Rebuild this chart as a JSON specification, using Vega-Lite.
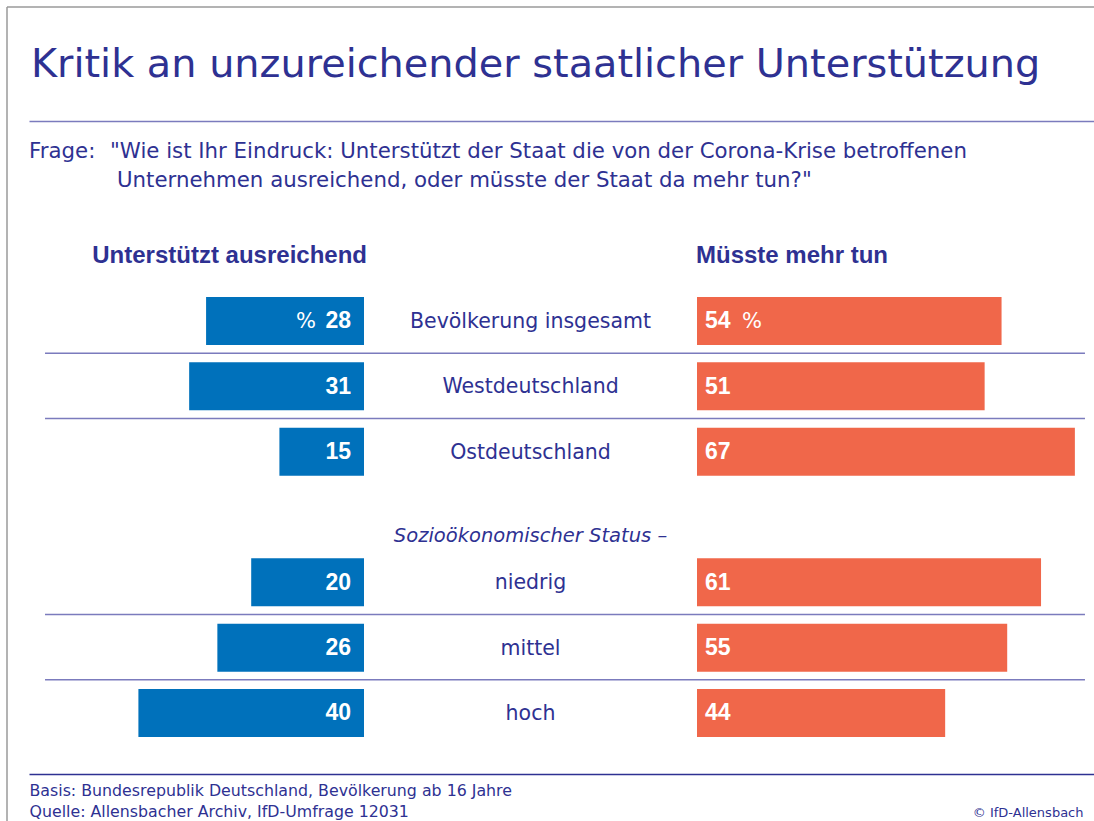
{
  "$schema": "https://vega.github.io/schema/vega-lite/v6.json",
  "width": 1087,
  "height": 814,
  "autosize": {"type": "none"},
  "padding": {"left": 7, "top": 7, "right": 0, "bottom": 0},
  "background": "white",
  "config": {"view": {"stroke": "#9a9a9a", "strokeWidth": 1.5, "strokeDash": [1087, 1901, 814, 0]}, "text": {"font": "DejaVu Sans"}},
  "title": {
    "text": "Kritik an unzureichender staatlicher Unterstützung",
    "orient": "top", "anchor": "start", "frame": "group",
    "offset": -109.5, "dx": 24, "baseline": "alphabetic",
    "font": "DejaVu Sans", "fontSize": 39.8, "fontWeight": "normal", "color": "#2e3192"
  },
  "datasets": {
    "umfrage": [
      {"row": "Bevölkerung insgesamt", "ausreichend": 28, "mehr": 54},
      {"row": "Westdeutschland", "ausreichend": 31, "mehr": 51},
      {"row": "Ostdeutschland", "ausreichend": 15, "mehr": 67},
      {"row": "niedrig", "ausreichend": 20, "mehr": 61},
      {"row": "mittel", "ausreichend": 26, "mehr": 55},
      {"row": "hoch", "ausreichend": 40, "mehr": 44}
    ]
  },
  "data": {"name": "umfrage"},
  "resolve": {"scale": {"x": "independent"}, "axis": {"x": "independent"}},
  "layer": [
    {
      "mark": {"type": "bar", "color": "#0071bb"},
      "encoding": {
        "y": {"field": "row", "type": "nominal", "axis": null, "scale": {"type": "band", "domain": ["header", "Bevölkerung insgesamt", "Westdeutschland", "Ostdeutschland", "section", "niedrig", "mittel", "hoch"], "range": [216, 738.67], "paddingInner": 0.2653, "paddingOuter": 0.13265}},
        "x": {"field": "ausreichend", "type": "quantitative", "axis": null, "scale": {"domain": [0, 60], "range": [357, 18.6]}},
        "x2": {"datum": 0}
      }
    },
    {
      "mark": {"type": "text", "align": "right", "baseline": "alphabetic", "dx": -13, "dy": 7.3, "font": "Liberation Sans", "fontWeight": "bold", "fontSize": 23, "color": "white"},
      "encoding": {
        "y": {"field": "row", "type": "nominal", "axis": null},
        "x": {"datum": 0, "type": "quantitative", "axis": null, "scale": {"domain": [0, 60], "range": [357, 18.6]}},
        "text": {"field": "ausreichend", "type": "quantitative"}
      }
    },
    {
      "transform": [{"filter": {"field": "row", "equal": "Bevölkerung insgesamt"}}],
      "mark": {"type": "text", "align": "right", "baseline": "alphabetic", "dx": -48, "dy": 7.3, "font": "DejaVu Sans", "fontSize": 21, "color": "white"},
      "encoding": {
        "y": {"field": "row", "type": "nominal", "axis": null},
        "x": {"datum": 0, "type": "quantitative", "axis": null, "scale": {"domain": [0, 60], "range": [357, 18.6]}},
        "text": {"value": "%"}
      }
    },
    {
      "mark": {"type": "bar", "color": "#f0674a"},
      "encoding": {
        "y": {"field": "row", "type": "nominal", "axis": null},
        "x": {"field": "mehr", "type": "quantitative", "scale": {"domain": [-118.44, 70.39], "range": [22, 1087]},
              "axis": {"orient": "top", "offset": -114, "domain": true, "domainColor": "#7b7bbd", "domainWidth": 1.5, "labels": false, "ticks": false, "grid": false, "title": null}},
        "x2": {"datum": 0}
      }
    },
    {
      "mark": {"type": "text", "align": "left", "baseline": "alphabetic", "dx": 8, "dy": 7.3, "font": "Liberation Sans", "fontWeight": "bold", "fontSize": 23, "color": "white"},
      "encoding": {
        "y": {"field": "row", "type": "nominal", "axis": null},
        "x": {"datum": 0, "type": "quantitative", "axis": null, "scale": {"domain": [-118.44, 70.39], "range": [22, 1087]}},
        "text": {"field": "mehr", "type": "quantitative"}
      }
    },
    {
      "transform": [{"filter": {"field": "row", "equal": "Bevölkerung insgesamt"}}],
      "mark": {"type": "text", "align": "left", "baseline": "alphabetic", "dx": 45, "dy": 7.3, "font": "DejaVu Sans", "fontSize": 21, "color": "white"},
      "encoding": {
        "y": {"field": "row", "type": "nominal", "axis": null},
        "x": {"datum": 0, "type": "quantitative", "axis": null, "scale": {"domain": [-118.44, 70.39], "range": [22, 1087]}},
        "text": {"value": "%"}
      }
    },
    {
      "mark": {"type": "text", "align": "center", "baseline": "alphabetic", "dy": 7, "font": "DejaVu Sans", "fontSize": 20.5, "color": "#2e3192"},
      "encoding": {
        "y": {"field": "row", "type": "nominal", "axis": null},
        "x": {"datum": -29.52, "type": "quantitative", "scale": {"domain": [-118.44, 70.39], "range": [22, 1087]},
              "axis": {"orient": "bottom", "offset": -47, "domain": true, "domainColor": "#2e3192", "domainWidth": 1.5, "labels": false, "ticks": false, "grid": false,
                       "title": ["Basis: Bundesrepublik Deutschland, Bevölkerung ab 16 Jahre", "Quelle: Allensbacher Archiv, IfD-Umfrage 12031"],
                       "titleAnchor": "start", "titleAlign": "left", "titleBaseline": "alphabetic", "titleY": 21, "titleLineHeight": 21,
                       "titleFont": "DejaVu Sans", "titleFontSize": 15.8, "titleFontWeight": "normal", "titleColor": "#2e3192"}},
        "text": {"field": "row", "type": "nominal"}
      }
    },
    {
      "transform": [{"filter": {"field": "row", "oneOf": ["Bevölkerung insgesamt", "Westdeutschland", "niedrig", "mittel"]}}],
      "mark": {"type": "rule", "color": "#7b7bbd", "strokeWidth": 1.5},
      "encoding": {
        "y": {"field": "row", "type": "nominal", "axis": null, "bandPosition": 1.17},
        "x": {"datum": -115.6, "type": "quantitative", "axis": null, "scale": {"domain": [-118.44, 70.39], "range": [22, 1087]}},
        "x2": {"datum": 68.79}
      }
    },
    {
      "data": {"values": [{}]},
      "mark": {"type": "text", "align": "right", "baseline": "alphabetic", "dx": 3, "dy": 7, "font": "Liberation Sans", "fontWeight": "bold", "fontSize": 24, "color": "#2e3192"},
      "encoding": {
        "y": {"datum": "header", "type": "nominal", "axis": null},
        "x": {"datum": 0, "type": "quantitative", "axis": null, "scale": {"domain": [0, 60], "range": [357, 18.6]}},
        "text": {"value": "Unterstützt ausreichend"}
      }
    },
    {
      "data": {"values": [{}]},
      "mark": {"type": "text", "align": "left", "baseline": "alphabetic", "dx": -1, "dy": 7, "font": "Liberation Sans", "fontWeight": "bold", "fontSize": 24, "color": "#2e3192"},
      "encoding": {
        "y": {"datum": "header", "type": "nominal", "axis": null},
        "x": {"datum": 0, "type": "quantitative", "scale": {"domain": [-118.44, 70.39], "range": [22, 1087]},
              "axis": {"orient": "bottom", "offset": -47, "domain": false, "labels": false, "ticks": false, "grid": false,
                       "title": "© IfD-Allensbach", "titleX": 1076, "titleY": 42, "titleAlign": "right", "titleBaseline": "alphabetic",
                       "titleFont": "DejaVu Sans", "titleFontSize": 13, "titleFontWeight": "normal", "titleColor": "#2e3192"}},
        "text": {"value": "Müsste mehr tun"}
      }
    },
    {
      "data": {"values": [{}]},
      "mark": {"type": "text", "align": "center", "baseline": "alphabetic", "dy": 24.7, "font": "DejaVu Sans", "fontStyle": "italic", "fontSize": 19.5, "color": "#2e3192"},
      "encoding": {
        "y": {"datum": "section", "type": "nominal", "axis": null},
        "x": {"datum": -29.52, "type": "quantitative", "axis": null, "scale": {"domain": [-118.44, 70.39], "range": [22, 1087]}},
        "text": {"value": "Sozioökonomischer Status –"}
      }
    },
    {
      "data": {"values": [{}]},
      "mark": {"type": "text", "align": "left", "baseline": "alphabetic", "dy": -97.4, "font": "DejaVu Sans", "fontSize": 21.3, "color": "#2e3192"},
      "encoding": {
        "y": {"datum": "header", "type": "nominal", "axis": null},
        "x": {"datum": -118.44, "type": "quantitative", "axis": null, "scale": {"domain": [-118.44, 70.39], "range": [22, 1087]}},
        "text": {"value": "Frage:"}
      }
    },
    {
      "data": {"values": [{}]},
      "mark": {"type": "text", "align": "left", "baseline": "alphabetic", "dx": 81, "dy": -97.4, "font": "DejaVu Sans", "fontSize": 21.3, "color": "#2e3192"},
      "encoding": {
        "y": {"datum": "header", "type": "nominal", "axis": null},
        "x": {"datum": -118.44, "type": "quantitative", "axis": null, "scale": {"domain": [-118.44, 70.39], "range": [22, 1087]}},
        "text": {"value": "\"Wie ist Ihr Eindruck: Unterstützt der Staat die von der Corona-Krise betroffenen"}
      }
    },
    {
      "data": {"values": [{}]},
      "mark": {"type": "text", "align": "left", "baseline": "alphabetic", "dx": 88, "dy": -68.4, "font": "DejaVu Sans", "fontSize": 21.3, "color": "#2e3192"},
      "encoding": {
        "y": {"datum": "header", "type": "nominal", "axis": null},
        "x": {"datum": -118.44, "type": "quantitative", "axis": null, "scale": {"domain": [-118.44, 70.39], "range": [22, 1087]}},
        "text": {"value": "Unternehmen ausreichend, oder müsste der Staat da mehr tun?\""}
      }
    }
  ]
}
